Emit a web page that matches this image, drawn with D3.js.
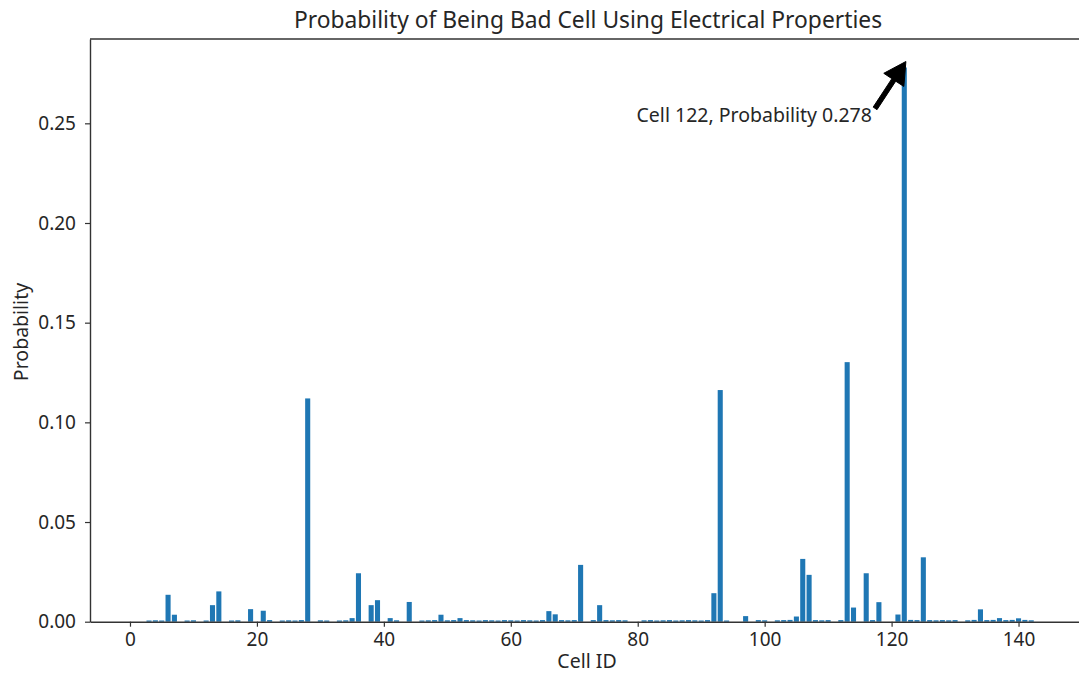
<!DOCTYPE html>
<html>
<head>
<meta charset="utf-8">
<script src="https://cdn.jsdelivr.net/npm/d3@7/dist/d3.min.js"></script>
<style>
  html, body { margin: 0; padding: 0; background: #fff; }
  svg { display: block; }
  text { font-family: "Noto Sans", "Open Sans", sans-serif; fill: #262626; }
</style>
</head>
<body>
<svg id="chart" width="1079" height="675"></svg>
<script>
// Probability per cell, indexed by cell ID (0 .. 142)
const cellIds = d3.range(0, 143);
const probability = [
  0, 0, 0, 0.0006, 0.0007, 0.0006, 0.0135, 0.0035, 0, 0.0006,
  0.0007, 0, 0.0006, 0.0083, 0.0152, 0, 0.0006, 0.0007, 0, 0.0063,
  0, 0.0055, 0.0008, 0, 0.0006, 0.0007, 0.0006, 0.0008, 0.112, 0,
  0.0007, 0.0006, 0, 0.0006, 0.0007, 0.0018, 0.0243, 0, 0.0083, 0.0108,
  0, 0.0018, 0.0007, 0, 0.0099, 0, 0.0006, 0.0007, 0.0008, 0.0035,
  0.0007, 0.0008, 0.0018, 0.0008, 0.0007, 0.0006, 0.0008, 0.0007, 0.0006, 0.0008,
  0.0007, 0.0006, 0.0008, 0.0007, 0.0006, 0.0008, 0.0053, 0.0037, 0.0008, 0.0007,
  0.0008, 0.0285, 0, 0.0008, 0.0083, 0.0008, 0.0007, 0.0008, 0.0007, 0,
  0, 0.0007, 0.0008, 0.0006, 0.0007, 0.0008, 0.0006, 0.0007, 0.0008, 0.0007,
  0.0006, 0.0008, 0.0143, 0.1162, 0.0006, 0, 0, 0.0028, 0, 0.0008,
  0.0007, 0, 0.0007, 0.0008, 0.0009, 0.0026, 0.0315, 0.0235, 0.0008, 0.0007,
  0.0008, 0, 0.0008, 0.1302, 0.0071, 0, 0.0243, 0.0008, 0.0098, 0,
  0, 0.0036, 0.278, 0.0009, 0.0008, 0.0323, 0.0008, 0.0007, 0.0008, 0.0007,
  0.0008, 0, 0.0007, 0.0009, 0.0062, 0.0008, 0.0009, 0.0018, 0.0008, 0.0009,
  0.0017, 0.0009, 0.0007
];
const xTicks = [0, 20, 40, 60, 80, 100, 120, 140];
const yTicks = [0, 0.05, 0.10, 0.15, 0.20, 0.25];
const peakCell = 122;
const peakLabel = "Cell 122, Probability 0.278";

const svg = d3.select("#chart");
const plot = { left: 90, right: 1082, top: 39, bottom: 621.7 };
const fontStack = '"Noto Sans", "Open Sans", sans-serif';

const x = d3.scaleLinear().domain([-6.3, 150]).range([plot.left, plot.right]);
const y = d3.scaleLinear().domain([0, 0.2923]).range([plot.bottom, plot.top]);
const barWidth = 0.8;

// Bars
svg.append("g")
  .selectAll("rect")
  .data(cellIds.filter(i => probability[i] > 0))
  .join("rect")
  .attr("x", i => x(i - barWidth / 2))
  .attr("width", i => x(i + barWidth / 2) - x(i - barWidth / 2))
  .attr("y", i => y(probability[i]))
  .attr("height", i => y(0) - y(probability[i]))
  .attr("fill", "#1f77b4");

// Axes
const xAxis = svg.append("g")
  .attr("transform", `translate(0,${plot.bottom})`)
  .call(d3.axisBottom(x).tickValues(xTicks).tickFormat(d3.format("d")).tickSize(5).tickSizeOuter(0).tickPadding(6));
const yAxis = svg.append("g")
  .attr("transform", `translate(${plot.left},0)`)
  .call(d3.axisLeft(y).tickValues(yTicks).tickFormat(d3.format(".2f")).tickSize(5).tickSizeOuter(0).tickPadding(9));

[xAxis, yAxis].forEach(g => {
  g.selectAll("path.domain").attr("stroke", "#333").attr("stroke-width", 1.4);
  g.selectAll(".tick line").attr("stroke", "#333").attr("stroke-width", 1.2);
  g.selectAll(".tick text").attr("font-size", 19).attr("fill", "#262626")
    .style("font-family", fontStack);
});

// Top spine
svg.append("line")
  .attr("x1", plot.left).attr("x2", plot.right)
  .attr("y1", plot.top).attr("y2", plot.top)
  .attr("stroke", "#333").attr("stroke-width", 1.4);

// Title and axis labels
svg.append("text")
  .attr("x", 588).attr("y", 28)
  .attr("text-anchor", "middle")
  .attr("font-size", 22.8)
  .text("Probability of Being Bad Cell Using Electrical Properties");

svg.append("text")
  .attr("x", 587).attr("y", 668)
  .attr("text-anchor", "middle")
  .attr("font-size", 19.5)
  .text("Cell ID");

svg.append("text")
  .attr("transform", `translate(28,332) rotate(-90)`)
  .attr("text-anchor", "middle")
  .attr("font-size", 19.5)
  .text("Probability");

// Annotation: label with a filled arrow pointing at the peak bar
const tip = [x(peakCell + 0.25), y(probability[peakCell]) - 6];
const tail = [x(117.4), y(0.2575)];

svg.append("text")
  .attr("x", x(116.9)).attr("y", y(0.2507))
  .attr("text-anchor", "end")
  .attr("font-size", 19.5)
  .text(peakLabel);

(function drawArrow() {
  const dx = tip[0] - tail[0], dy = tip[1] - tail[1];
  const len = Math.hypot(dx, dy);
  const ux = dx / len, uy = dy / len;
  const nx = -uy, ny = ux;
  const headLen = 22, headHalf = 12, shaftHalf = 2.3;
  const bx = tip[0] - ux * headLen, by = tip[1] - uy * headLen;
  const pts = [
    [tail[0] + nx * shaftHalf, tail[1] + ny * shaftHalf],
    [bx + nx * shaftHalf, by + ny * shaftHalf],
    [bx + nx * headHalf, by + ny * headHalf],
    tip,
    [bx - nx * headHalf, by - ny * headHalf],
    [bx - nx * shaftHalf, by - ny * shaftHalf],
    [tail[0] - nx * shaftHalf, tail[1] - ny * shaftHalf]
  ];
  svg.append("path")
    .attr("d", d3.line()(pts) + "Z")
    .attr("fill", "#000")
    .attr("stroke", "#000")
    .attr("stroke-width", 1);
})();
</script>
</body>
</html>
